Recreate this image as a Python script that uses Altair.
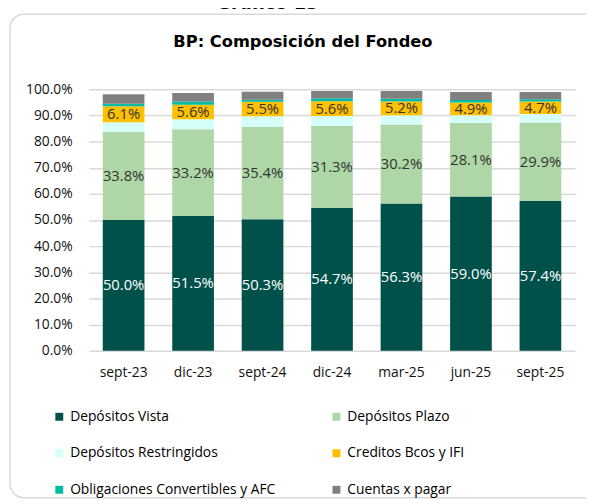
import altair as alt
import pandas as pd

periods = ["sept-23", "dic-23", "sept-24", "dic-24", "mar-25", "jun-25", "sept-25"]
series = [
    "Depósitos Vista",
    "Depósitos Plazo",
    "Depósitos Restringidos",
    "Creditos Bcos y IFI",
    "Obligaciones Convertibles y AFC",
    "Cuentas x pagar",
]
vista = [50.0, 51.5, 50.3, 54.7, 56.3, 59.0, 57.4]
plazo = [33.8, 33.2, 35.4, 31.3, 30.2, 28.1, 29.9]
restringidos = [3.6, 3.8, 4.0, 3.8, 3.6, 3.0, 3.3]
creditos = [6.1, 5.6, 5.5, 5.6, 5.2, 4.9, 4.7]
obligaciones = [1.0, 1.2, 0.8, 1.2, 1.1, 0.9, 0.9]
cuentas = [3.6, 3.3, 3.1, 2.8, 3.0, 3.1, 2.8]
colors = ["#00514A", "#AED6A6", "#D5FFF9", "#FFC000", "#00BBA4", "#808080"]
labeled = ["Depósitos Vista", "Depósitos Plazo", "Creditos Bcos y IFI"]
y_ticks = [0, 10, 20, 30, 40, 50, 60, 70, 80, 90, 100]
chart_title = "BP: Composición del Fondeo"
top_caption = "Gráfico 15"

# legend is filled column by column: order entries so it reads row by row
legend_order = [series[0], series[2], series[4], series[1], series[3], series[5]]
legend_colors = [colors[series.index(s)] for s in legend_order]

rows = []
for i, (name, vals) in enumerate(
    zip(series, [vista, plazo, restringidos, creditos, obligaciones, cuentas])
):
    for p, v in zip(periods, vals):
        rows.append({"period": p, "serie": name, "idx": i, "value": v})
df = pd.DataFrame(rows)

base = (
    alt.Chart(df)
    .transform_stack(
        stack="value",
        groupby=["period"],
        as_=["v0", "v1"],
        sort=[alt.SortField("idx", order="ascending")],
    )
    .transform_calculate(mid="(datum.v0 + datum.v1) / 2",
                         label="format(datum.value, '.1f') + '%'")
)

x_scale = alt.Scale(paddingInner=0.4, paddingOuter=0.2)
y_scale = alt.Scale(domain=[0, 100], nice=False)
x_axis = alt.Axis(
    title=None, labelAngle=0, ticks=False, domain=False, grid=False,
    labelFont="Open Sans", labelFontSize=14, labelColor="#111111",
    labelPadding=15,
)
y_axis = alt.Axis(
    title=None, values=y_ticks, ticks=False, domain=False,
    labelExpr="format(datum.value, '.1f') + '%'",
    labelFont="Open Sans", labelFontSize=14, labelColor="#111111",
    labelPadding=17, gridColor="#D9D9D9", gridWidth=1.5,
    labelOverlap=False,
)

bars = base.mark_bar().encode(
    x=alt.X("period:N", sort=periods, scale=x_scale, axis=x_axis),
    y=alt.Y("v0:Q", scale=y_scale, axis=y_axis),
    y2="v1:Q",
    color=alt.Color(
        "serie:N",
        scale=alt.Scale(domain=legend_order, range=legend_colors),
        legend=alt.Legend(
            title=None, orient="none", legendX=-37, legendY=325,
            columns=2, columnPadding=54, rowPadding=23, padding=0,
            symbolType="square", symbolSize=64, symbolStrokeWidth=0,
            labelFont="Open Sans", labelFontSize=14, labelColor="#000000",
            labelLimit=400, labelOffset=4,
        ),
    ),
    order=alt.Order("idx:Q", sort="ascending"),
)

texts = (
    base.transform_filter(alt.FieldOneOfPredicate(field="serie", oneOf=labeled))
    .mark_text(font="Open Sans", fontSize=15)
    .encode(
        x=alt.X("period:N", sort=periods, scale=x_scale, axis=x_axis),
        y=alt.Y("mid:Q", scale=y_scale, axis=y_axis),
        text="label:N",
        color=alt.condition(
            alt.datum.serie == "Depósitos Vista",
            alt.value("#FFFFFF"),
            alt.value("#333333"),
        ),
    )
)

frame = (
    alt.Chart(pd.DataFrame({"f": [0]}))
    .mark_rect(fillOpacity=0, stroke="#D9D9D9", strokeWidth=1.5, cornerRadius=14)
    .encode(x=alt.value(-80), x2=alt.value(560), y=alt.value(-76), y2=alt.value(414))
)

title_text = (
    alt.Chart(pd.DataFrame({"t": [chart_title]}))
    .mark_text(font="DejaVu Sans", fontSize=16.5, fontWeight="bold", color="#000000",
               align="center", baseline="middle")
    .encode(text="t:N", x=alt.value(217), y=alt.value(-48))
)

caption_text = (
    alt.Chart(pd.DataFrame({"t": [top_caption]}))
    .mark_text(font="DejaVu Sans", fontSize=18, fontWeight="bold", color="#000000",
               align="center", baseline="alphabetic")
    .encode(text="t:N", x=alt.value(181), y=alt.value(-81))
)

chart = (
    alt.layer(frame, bars, texts, title_text, caption_text)
    .properties(
        width=493,
        height=265,
        padding={"left": 82, "top": 79, "right": 11, "bottom": 152},
        autosize=alt.AutoSizeParams(type="none"),
    )
    .configure_view(stroke=None)
)

chart.save("out.html", embed_options={"renderer": "svg", "actions": False})
